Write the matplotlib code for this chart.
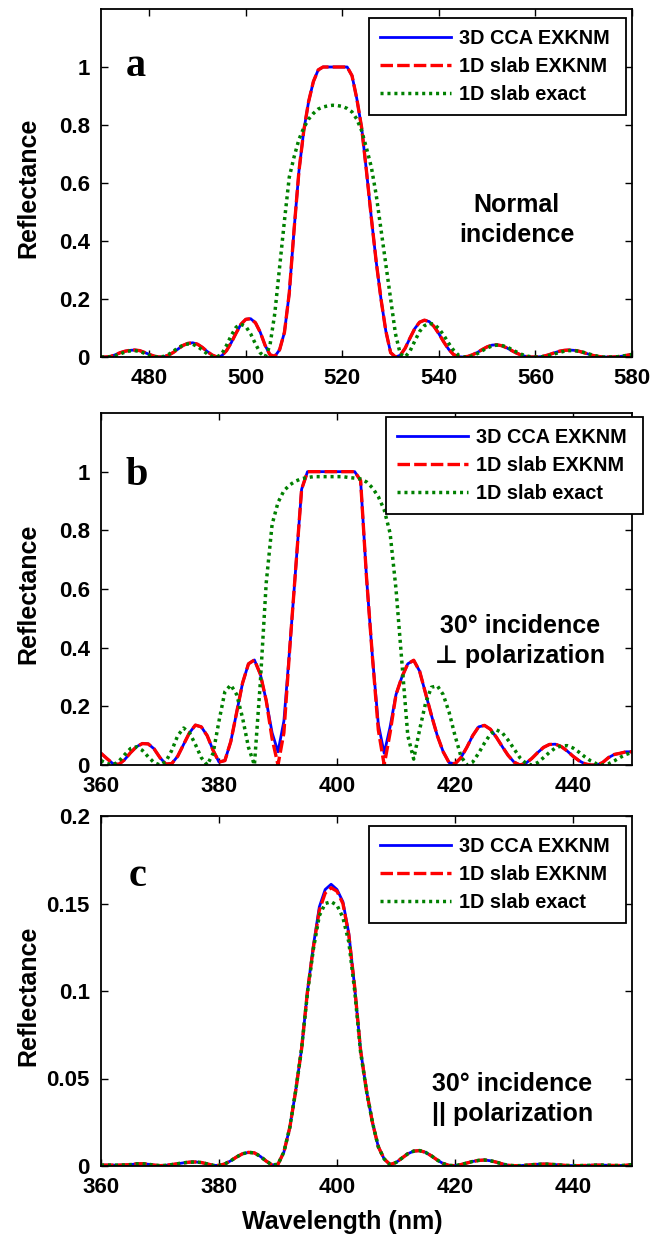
import matplotlib
matplotlib.use("Agg")
import matplotlib.pyplot as plt

plt.rcParams['font.family'] = ['Liberation Sans', 'DejaVu Sans']
plt.rcParams['font.weight'] = 'bold'
plt.rcParams['lines.scale_dashes'] = False

# ---------------- data ----------------
WL_A = list(range(470, 581))
R_A_CCA = [
    0.0, 0.0, 0.002, 0.008, 0.015, 0.020, 0.023, 0.024, 0.022, 0.016,
    0.009, 0.003, 0.000, 0.001, 0.006, 0.016, 0.028, 0.040, 0.047, 0.049,
    0.044, 0.033, 0.019, 0.007, 0.000, 0.004, 0.022, 0.050, 0.083, 0.113,
    0.130, 0.132, 0.118, 0.085, 0.040, 0.008, 0.002, 0.025, 0.085, 0.22,
    0.44, 0.64, 0.78, 0.88, 0.95, 0.99, 1.0, 1.0, 1.0, 1.0,
    1.0, 1.0, 0.97, 0.89, 0.79, 0.64, 0.48, 0.33, 0.20, 0.09,
    0.015, 0.0, 0.006, 0.03, 0.065, 0.098, 0.12, 0.127, 0.122, 0.105,
    0.08, 0.052, 0.027, 0.009, 0.001, 0.0, 0.002, 0.008, 0.016, 0.026,
    0.035, 0.041, 0.042, 0.039, 0.032, 0.023, 0.014, 0.007, 0.002, 0.0,
    0.0, 0.001, 0.004, 0.009, 0.015, 0.020, 0.023, 0.024, 0.023, 0.020,
    0.015, 0.010, 0.005, 0.002, 0.0, 0.0, 0.0, 0.001, 0.003, 0.006,
    0.009]
R_A_SLAB = [
    0.0, 0.0, 0.002, 0.008, 0.015, 0.020, 0.023, 0.024, 0.022, 0.016,
    0.009, 0.003, 0.000, 0.001, 0.006, 0.016, 0.028, 0.040, 0.047, 0.049,
    0.044, 0.033, 0.019, 0.007, 0.000, 0.004, 0.022, 0.050, 0.083, 0.113,
    0.130, 0.132, 0.118, 0.085, 0.040, 0.008, 0.002, 0.025, 0.085, 0.22,
    0.44, 0.64, 0.78, 0.88, 0.95, 0.99, 1.0, 1.0, 1.0, 1.0,
    1.0, 1.0, 0.97, 0.89, 0.79, 0.64, 0.48, 0.33, 0.20, 0.09,
    0.015, 0.0, 0.006, 0.03, 0.065, 0.098, 0.12, 0.127, 0.122, 0.105,
    0.08, 0.052, 0.027, 0.009, 0.001, 0.0, 0.002, 0.008, 0.016, 0.026,
    0.035, 0.041, 0.042, 0.039, 0.032, 0.023, 0.014, 0.007, 0.002, 0.0,
    0.0, 0.001, 0.004, 0.009, 0.015, 0.020, 0.023, 0.024, 0.023, 0.020,
    0.015, 0.010, 0.005, 0.002, 0.0, 0.0, 0.0, 0.001, 0.003, 0.006,
    0.009]
R_A_EXACT = [
    0.0, 0.0, 0.001, 0.005, 0.011, 0.017, 0.021, 0.022, 0.019, 0.013,
    0.006, 0.001, 0.0, 0.002, 0.009, 0.020, 0.032, 0.041, 0.045, 0.044,
    0.036, 0.024, 0.011, 0.002, 0.0, 0.010, 0.040, 0.075, 0.103, 0.113,
    0.105, 0.080, 0.045, 0.014, 0.0, 0.04, 0.15, 0.31, 0.47, 0.62,
    0.69, 0.75, 0.79, 0.82, 0.84, 0.855, 0.862, 0.866, 0.868, 0.867,
    0.864, 0.857, 0.845, 0.82, 0.78, 0.72, 0.655, 0.56, 0.44, 0.32,
    0.20, 0.08, 0.01, 0.0, 0.02, 0.055, 0.088, 0.108, 0.116, 0.113,
    0.098, 0.075, 0.048, 0.024, 0.007, 0.0, 0.0, 0.004, 0.012, 0.022,
    0.031, 0.038, 0.041, 0.040, 0.035, 0.027, 0.018, 0.010, 0.004, 0.001,
    0.0, 0.0, 0.002, 0.006, 0.011, 0.016, 0.020, 0.022, 0.022, 0.020,
    0.016, 0.011, 0.006, 0.002, 0.0, 0.0, 0.0, 0.001, 0.003, 0.006,
    0.009]

WL_BC = list(range(360, 451))
R_B_CCA = [
    0.040, 0.022, 0.005, 0.002, 0.018, 0.042, 0.062, 0.073, 0.072, 0.055,
    0.025, 0.003, 0.005, 0.030, 0.070, 0.110, 0.136, 0.130, 0.100, 0.050,
    0.010, 0.015, 0.080, 0.180, 0.280, 0.345, 0.358, 0.310, 0.220, 0.110,
    0.045, 0.150, 0.400, 0.670, 0.940, 1.0, 1.0, 1.0, 1.0, 1.0,
    1.0, 1.0, 1.0, 1.0, 0.970, 0.640, 0.370, 0.140, 0.040, 0.130,
    0.240, 0.300, 0.345, 0.357, 0.320, 0.245, 0.170, 0.100, 0.045, 0.008,
    0.004, 0.025, 0.060, 0.100, 0.130, 0.135, 0.122, 0.095, 0.063, 0.033,
    0.010, 0.0, 0.006, 0.022, 0.042, 0.060, 0.070, 0.071, 0.063, 0.048,
    0.030, 0.015, 0.004, 0.0, 0.0, 0.008, 0.025, 0.036, 0.040, 0.045,
    0.045]
R_B_SLAB = [
    0.040, 0.022, 0.005, 0.002, 0.018, 0.042, 0.062, 0.073, 0.072, 0.055,
    0.025, 0.003, 0.005, 0.030, 0.070, 0.110, 0.136, 0.130, 0.100, 0.050,
    0.010, 0.015, 0.080, 0.180, 0.280, 0.345, 0.358, 0.310, 0.220, 0.090,
    0.0, 0.110, 0.400, 0.670, 0.940, 1.0, 1.0, 1.0, 1.0, 1.0,
    1.0, 1.0, 1.0, 1.0, 0.970, 0.640, 0.370, 0.120, 0.0, 0.110,
    0.240, 0.300, 0.345, 0.357, 0.320, 0.245, 0.170, 0.100, 0.045, 0.008,
    0.004, 0.025, 0.060, 0.100, 0.130, 0.135, 0.122, 0.095, 0.063, 0.033,
    0.010, 0.0, 0.006, 0.022, 0.042, 0.060, 0.070, 0.071, 0.063, 0.048,
    0.030, 0.015, 0.004, 0.0, 0.0, 0.008, 0.025, 0.036, 0.040, 0.045,
    0.045]
R_B_EXACT = [
    0.015, 0.005, 0.0, 0.012, 0.035, 0.056, 0.062, 0.050, 0.028, 0.008,
    0.0, 0.012, 0.050, 0.100, 0.126, 0.110, 0.070, 0.025, 0.0, 0.040,
    0.150, 0.250, 0.273, 0.240, 0.160, 0.060, 0.0, 0.280, 0.620, 0.820,
    0.895, 0.935, 0.955, 0.968, 0.976, 0.980, 0.983, 0.983, 0.983, 0.983,
    0.983, 0.983, 0.980, 0.978, 0.975, 0.965, 0.945, 0.915, 0.870, 0.790,
    0.600, 0.350, 0.100, 0.020, 0.120, 0.210, 0.265, 0.270, 0.240, 0.180,
    0.100, 0.030, 0.0, 0.010, 0.040, 0.075, 0.105, 0.120, 0.110, 0.085,
    0.055, 0.025, 0.006, 0.0, 0.008, 0.025, 0.043, 0.058, 0.065, 0.066,
    0.058, 0.044, 0.028, 0.014, 0.004, 0.0, 0.004, 0.014, 0.026, 0.036,
    0.043]

R_C_CCA = [
    0.0005, 0.0005, 0.0005, 0.0005, 0.0006, 0.0008, 0.0012, 0.0013, 0.0010, 0.0005,
    0.0002, 0.0004, 0.0008, 0.0013, 0.0018, 0.0022, 0.0023, 0.0020, 0.0012, 0.0004,
    0.0003, 0.0012, 0.0030, 0.0052, 0.0070, 0.0078, 0.0075, 0.0055, 0.0028, 0.0006,
    0.0010, 0.0080, 0.0220, 0.0430, 0.0670, 0.1000, 0.1260, 0.1480, 0.1580, 0.1610,
    0.1580, 0.1510, 0.1330, 0.1020, 0.0660, 0.0430, 0.0250, 0.0110, 0.0040, 0.0008,
    0.0020, 0.0045, 0.0070, 0.0085, 0.0088, 0.0078, 0.0058, 0.0034, 0.0014, 0.0003,
    0.0002, 0.0008, 0.0017, 0.0026, 0.0032, 0.0034, 0.0030, 0.0022, 0.0012, 0.0004,
    0.0002, 0.0002, 0.0004, 0.0007, 0.0010, 0.0011, 0.0010, 0.0008, 0.0005, 0.0003,
    0.0002, 0.0002, 0.0003, 0.0004, 0.0005, 0.0005, 0.0004, 0.0003, 0.0003, 0.0004,
    0.0008]
R_C_SLAB = [
    0.0005, 0.0005, 0.0005, 0.0005, 0.0006, 0.0008, 0.0012, 0.0013, 0.0010, 0.0005,
    0.0002, 0.0004, 0.0008, 0.0013, 0.0018, 0.0022, 0.0023, 0.0020, 0.0012, 0.0004,
    0.0003, 0.0012, 0.0030, 0.0052, 0.0070, 0.0078, 0.0075, 0.0055, 0.0028, 0.0006,
    0.0010, 0.0080, 0.0220, 0.0430, 0.0670, 0.1000, 0.1250, 0.1460, 0.1560, 0.1590,
    0.1570, 0.1500, 0.1320, 0.1020, 0.0660, 0.0430, 0.0250, 0.0110, 0.0040, 0.0008,
    0.0020, 0.0045, 0.0070, 0.0085, 0.0088, 0.0078, 0.0058, 0.0034, 0.0014, 0.0003,
    0.0002, 0.0008, 0.0017, 0.0026, 0.0032, 0.0034, 0.0030, 0.0022, 0.0012, 0.0004,
    0.0002, 0.0002, 0.0004, 0.0007, 0.0010, 0.0011, 0.0010, 0.0008, 0.0005, 0.0003,
    0.0002, 0.0002, 0.0003, 0.0004, 0.0005, 0.0005, 0.0004, 0.0003, 0.0003, 0.0004,
    0.0008]
R_C_EXACT = [
    0.0005, 0.0005, 0.0005, 0.0005, 0.0006, 0.0008, 0.0012, 0.0013, 0.0010, 0.0005,
    0.0002, 0.0004, 0.0008, 0.0013, 0.0018, 0.0022, 0.0023, 0.0020, 0.0012, 0.0004,
    0.0003, 0.0012, 0.0030, 0.0052, 0.0070, 0.0078, 0.0075, 0.0055, 0.0028, 0.0006,
    0.0010, 0.0080, 0.0220, 0.0430, 0.0670, 0.0990, 0.1240, 0.1430, 0.1500, 0.1510,
    0.1490, 0.1420, 0.1280, 0.1000, 0.0650, 0.0430, 0.0250, 0.0110, 0.0040, 0.0008,
    0.0020, 0.0045, 0.0070, 0.0085, 0.0088, 0.0078, 0.0058, 0.0034, 0.0014, 0.0003,
    0.0002, 0.0008, 0.0017, 0.0026, 0.0032, 0.0034, 0.0030, 0.0022, 0.0012, 0.0004,
    0.0002, 0.0002, 0.0004, 0.0007, 0.0010, 0.0011, 0.0010, 0.0008, 0.0005, 0.0003,
    0.0002, 0.0002, 0.0003, 0.0004, 0.0005, 0.0005, 0.0004, 0.0003, 0.0003, 0.0004,
    0.0008]

LABELS = ['3D CCA EXKNM', '1D slab EXKNM', '1D slab exact']
XTICKS_A = [480, 500, 520, 540, 560, 580]
XTICKS_BC = [360, 380, 400, 420, 440]
YTICKS_AB = [0, 0.2, 0.4, 0.6, 0.8, 1.0]
YTICKLABELS_AB = ['0', '0.2', '0.4', '0.6', '0.8', '1']
YTICKS_C = [0, 0.05, 0.1, 0.15, 0.2]
YTICKLABELS_C = ['0', '0.05', '0.1', '0.15', '0.2']

# ---------------- figure ----------------
W, H = 652, 1237
fig = plt.figure(figsize=(W / 100, H / 100), dpi=100)

def add_ax(top, bottom):
    return fig.add_axes([101 / W, 1 - bottom / H, 531 / W, (bottom - top) / H])

ax_a = add_ax(9, 357)
ax_b = add_ax(413, 765)
ax_c = add_ax(816, 1166)

BLUE = (0, 0, 1)
RED = (1, 0, 0)
GREEN = (0, 0.5, 0)

def draw(ax, wl, r1, r2, r3):
    ax.plot(wl, r1, color=BLUE, lw=2.0, solid_joinstyle='round', label=LABELS[0])
    ax.plot(wl, r2, color=RED, lw=2.4, dashes=(9, 3), label=LABELS[1])
    ax.plot(wl, r3, color=GREEN, lw=2.5, dashes=(2.2, 2.8), label=LABELS[2])

draw(ax_a, WL_A, R_A_CCA, R_A_SLAB, R_A_EXACT)
draw(ax_b, WL_BC, R_B_CCA, R_B_SLAB, R_B_EXACT)
draw(ax_c, WL_BC, R_C_CCA, R_C_SLAB, R_C_EXACT)

for ax in (ax_a, ax_b, ax_c):
    ax.tick_params(direction='in', length=5, width=1, top=True, right=True,
                   labelsize=16)
    ax.tick_params(axis='x', pad=8)
    ax.tick_params(axis='y', pad=8)
    for s in ax.spines.values():
        s.set_linewidth(1.3)

ax_a.set_xlim(470, 580)
ax_a.set_ylim(0, 1.2)
ax_a.set_xticks(XTICKS_A)
ax_a.set_yticks(YTICKS_AB)
ax_a.set_yticklabels(YTICKLABELS_AB)

ax_b.set_xlim(360, 450)
ax_b.set_ylim(0, 1.2)
ax_b.set_xticks(XTICKS_BC)
ax_b.set_yticks(YTICKS_AB)
ax_b.set_yticklabels(YTICKLABELS_AB)

ax_c.set_xlim(360, 450)
ax_c.set_ylim(0, 0.2)
ax_c.set_xticks(XTICKS_BC)
ax_c.set_yticks(YTICKS_C)
ax_c.set_yticklabels(YTICKLABELS_C)

# legends
leg_boxes = {ax_a: (369, 626, 18), ax_b: (386, 643, 417), ax_c: (369, 626, 826)}
ax_tops = {ax_a: (9, 357), ax_b: (413, 765), ax_c: (816, 1166)}
for ax, (l, r, t) in leg_boxes.items():
    at, ab = ax_tops[ax]
    x0 = (l - 101) / 531
    w = (r - l) / 531
    ytop = (ab - t) / (ab - at)
    leg = ax.legend(loc='upper left', bbox_to_anchor=(x0, ytop - 0.5, w, 0.5),
                    mode='expand', borderaxespad=0, fontsize=14.3,
                    handlelength=3.6, handletextpad=0.4, borderpad=0.55,
                    labelspacing=0.45, fancybox=False, framealpha=1,
                    edgecolor='black')
    leg.get_frame().set_linewidth(1.3)

# panel letters
serif = ['Liberation Serif', 'DejaVu Serif']
ax_a.text(475.2, 0.97, 'a', family=serif, fontsize=29, fontweight='bold')
ax_b.text(364.2, 0.955, 'b', family=serif, fontsize=29, fontweight='bold')
ax_c.text(364.6, 0.16, 'c', family=serif, fontsize=29, fontweight='bold')

# annotations
ax_a.text(556.1, 0.472, 'Normal\nincidence', ha='center', va='center',
          fontsize=18, linespacing=1.35)
ax_b.text(431.1, 0.423, '30° incidence\n⊥ polarization', ha='center', va='center',
          fontsize=18, linespacing=1.35)
ax_c.text(429.8, 0.0383, '30° incidence\n|| polarization', ha='center', va='center',
          multialignment='left', fontsize=18, linespacing=1.35)

# axis labels
for top, bottom in [(9, 357), (413, 765), (816, 1166)]:
    yc = (top + bottom) / 2 + 5
    fig.text(28 / W, 1 - yc / H, 'Reflectance', rotation=90, ha='center',
             va='center', fontsize=18)
fig.text(342 / W, 1 - 1222 / H, 'Wavelength (nm)', ha='center', va='center',
         fontsize=18)

fig.savefig('out.png', dpi=100)
